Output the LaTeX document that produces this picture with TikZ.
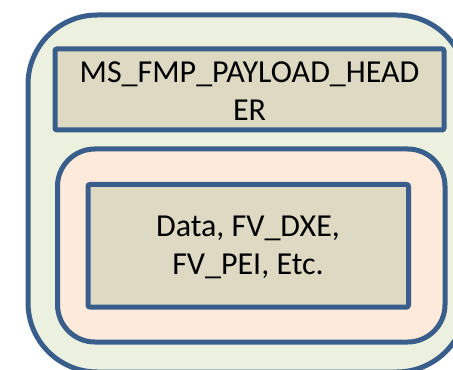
\documentclass[tikz,border=0pt]{standalone}
\usepackage{fontspec}
\setmainfont{Carlito}

\definecolor{frameBlue}{RGB}{58,94,139}
\definecolor{capsuleGreen}{RGB}{235,241,222}
\definecolor{payloadPeach}{RGB}{253,234,218}
\definecolor{fieldTan}{RGB}{221,217,195}

\tikzset{every picture/.style={line width=0.75pt}}
\tikzset{
  shell/.style={draw=frameBlue, line width=3.75pt},
  label/.style={align=center, font=\fontsize{24}{28.5}\selectfont, inner sep=0pt}
}

\begin{document}
\begin{tikzpicture}[x=0.75pt,y=0.75pt,yscale=-1,xscale=1]
	\clip (0,0) rectangle (453,370);
	\fill [white] (0,0) rectangle (453,370);

	%Shape: Rounded Rect [id:capsule]
	\draw [shell, fill=capsuleGreen, rounded corners=52] (28,15) rectangle (466,372) ;
	%Shape: Rectangle [id:header]
	\draw [shell, fill=fieldTan, rounded corners=1.5] (55,49) rectangle (444,130) ;
	%Shape: Rounded Rect [id:payload]
	\draw [shell, fill=payloadPeach, rounded corners=28] (57.5,149) rectangle (445,342) ;
	%Shape: Rectangle [id:body]
	\draw [shell, fill=fieldTan, rounded corners=1.5] (88,184.5) rectangle (408.5,307) ;

	% Text Node
	\node [label] (hdrtext) at (249.5,91) {MS\_FMP\_PAYLOAD\_HEAD\\ER};
	% Text Node
	\node [label] (bodytext) at (248,247.5) {Data, FV\_DXE,\\FV\_PEI, Etc.};

\end{tikzpicture}
\end{document}
